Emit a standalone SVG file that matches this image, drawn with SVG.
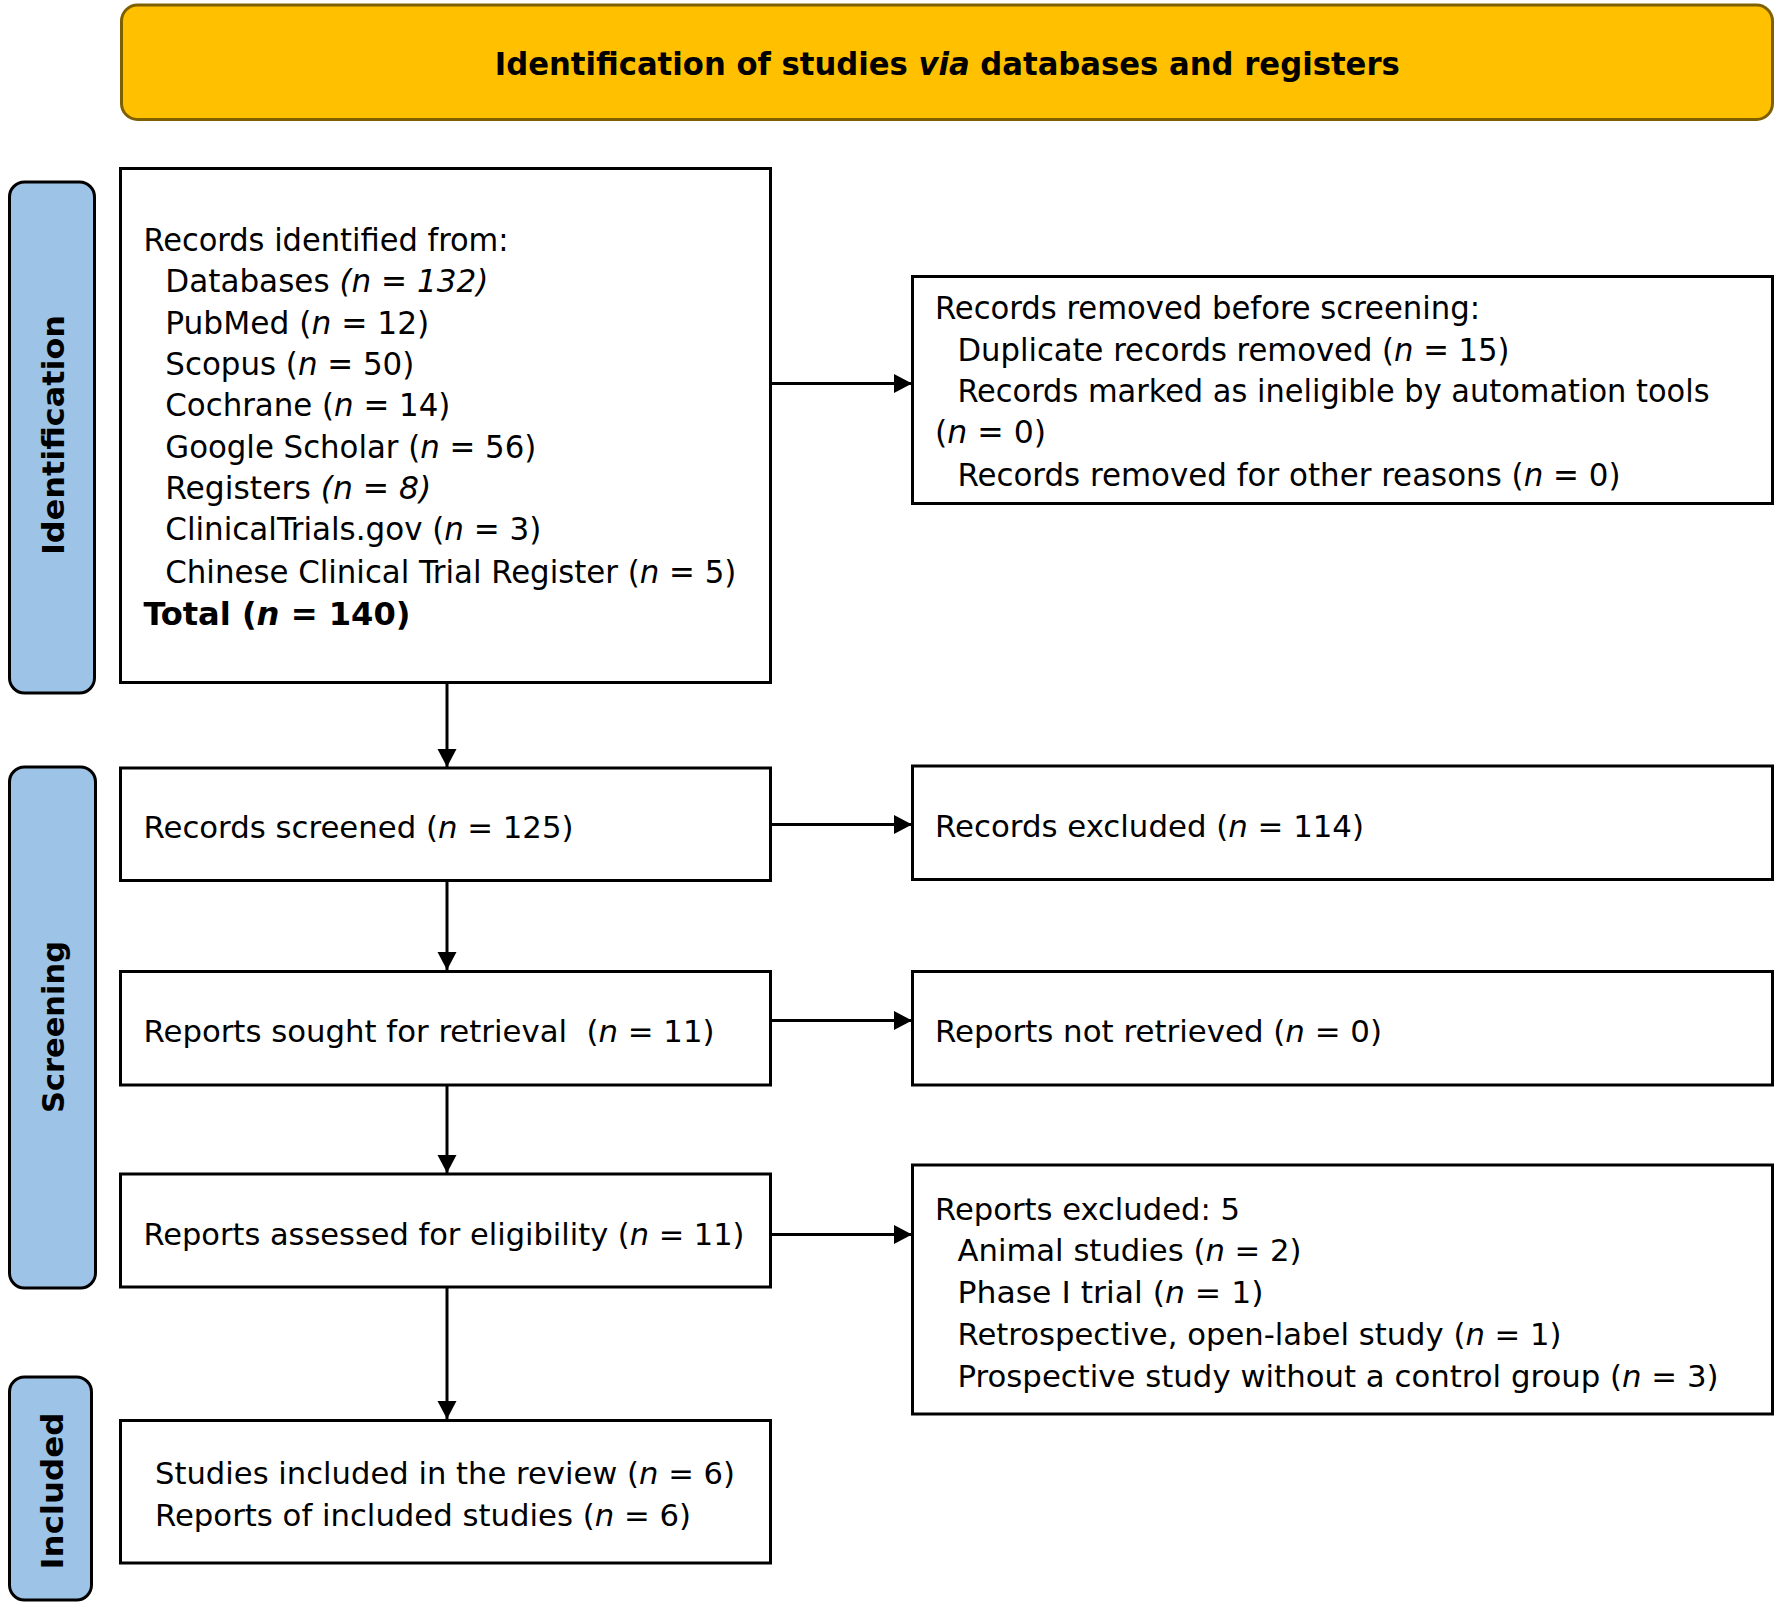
<svg xmlns="http://www.w3.org/2000/svg" width="1779" height="1609" viewBox="0 0 1779 1609">
<style>
.box{fill:#fff;stroke:#000;stroke-width:3}
.side{fill:#9DC3E6;stroke:#000;stroke-width:3}
.hdr{fill:#FFC000;stroke:#7F6000;stroke-width:3}
.cn{font-family:"DejaVu Sans Condensed","DejaVu Sans",sans-serif;font-size:32px;fill:#000}
.rg{font-family:"DejaVu Sans","Liberation Sans",sans-serif;font-size:31px;fill:#000}
.sb{font-family:"DejaVu Sans","Liberation Sans",sans-serif;font-size:31px;font-weight:bold;fill:#000}
.hb{font-family:"DejaVu Sans Condensed","DejaVu Sans",sans-serif;font-size:32px;font-weight:bold;fill:#000}
.i{font-style:italic}
.conn{stroke:#000;stroke-width:3;fill:none;marker-end:url(#ah)}
</style>
<defs>
<marker id="ah" markerUnits="userSpaceOnUse" markerWidth="19" markerHeight="20" refX="18" refY="9.5" orient="auto">
<path d="M0,0 L18,9.5 L0,19 z" fill="#000"/>
</marker>
</defs>
<rect width="1779" height="1609" fill="#fff"/>
<g id="header">
<rect class="hdr" x="121.5" y="5" width="1651" height="114.5" rx="16"/>
<text class="hb" x="494.8" y="75" textLength="905" lengthAdjust="spacingAndGlyphs">Identification of studies <tspan class="i">via</tspan> databases and registers</text>
</g>
<g id="side-identification">
<rect class="side" x="9.5" y="182" width="85" height="511" rx="15"/>
<text class="sb" transform="translate(63.5,435) rotate(-90)" text-anchor="middle" textLength="240" lengthAdjust="spacingAndGlyphs">Identification</text>
</g>
<g id="side-screening">
<rect class="side" x="9.5" y="767" width="86" height="521" rx="15"/>
<text class="sb" transform="translate(64,1027) rotate(-90)" text-anchor="middle" textLength="172" lengthAdjust="spacingAndGlyphs">Screening</text>
</g>
<g id="side-included">
<rect class="side" x="9.5" y="1377" width="82" height="223" rx="15"/>
<text class="sb" transform="translate(62.5,1491) rotate(-90)" text-anchor="middle" textLength="157" lengthAdjust="spacingAndGlyphs">Included</text>
</g>
<g id="records-identified">
<rect class="box" x="120.5" y="168.5" width="650" height="514"/>
<text class="cn" x="143.5" y="251" textLength="365" lengthAdjust="spacingAndGlyphs">Records identified from:</text>
<text class="cn" x="165.3" y="292" textLength="323" lengthAdjust="spacingAndGlyphs">Databases <tspan class="i">(n = 132)</tspan></text>
<text class="cn" x="165.3" y="334" textLength="264" lengthAdjust="spacingAndGlyphs">PubMed (<tspan class="i">n</tspan> = 12)</text>
<text class="cn" x="165.3" y="375" textLength="249" lengthAdjust="spacingAndGlyphs">Scopus (<tspan class="i">n</tspan> = 50)</text>
<text class="cn" x="165.3" y="416" textLength="285" lengthAdjust="spacingAndGlyphs">Cochrane (<tspan class="i">n</tspan> = 14)</text>
<text class="cn" x="165.3" y="457.6" textLength="371" lengthAdjust="spacingAndGlyphs">Google Scholar (<tspan class="i">n</tspan> = 56)</text>
<text class="cn" x="165.3" y="499" textLength="266" lengthAdjust="spacingAndGlyphs">Registers <tspan class="i">(n = 8)</tspan></text>
<text class="cn" x="165.3" y="540" textLength="376" lengthAdjust="spacingAndGlyphs">ClinicalTrials.gov (<tspan class="i">n</tspan> = 3)</text>
<text class="cn" x="165.3" y="582.6" textLength="571" lengthAdjust="spacingAndGlyphs">Chinese Clinical Trial Register (<tspan class="i">n</tspan> = 5)</text>
<text class="cn" x="143.5" y="625" font-weight="bold" textLength="267" lengthAdjust="spacingAndGlyphs">Total (<tspan class="i">n</tspan> = 140)</text>
</g>
<g id="records-removed">
<rect class="box" x="912.5" y="276.5" width="860" height="227"/>
<text class="cn" x="935" y="319" textLength="545" lengthAdjust="spacingAndGlyphs">Records removed before screening:</text>
<text class="cn" x="957.5" y="360.7" textLength="552" lengthAdjust="spacingAndGlyphs">Duplicate records removed (<tspan class="i">n</tspan> = 15)</text>
<text class="cn" x="957.5" y="401.8" textLength="752" lengthAdjust="spacingAndGlyphs">Records marked as ineligible by automation tools</text>
<text class="cn" x="935" y="443" textLength="111" lengthAdjust="spacingAndGlyphs">(<tspan class="i">n</tspan> = 0)</text>
<text class="cn" x="957.5" y="485.7" textLength="663" lengthAdjust="spacingAndGlyphs">Records removed for other reasons (<tspan class="i">n</tspan> = 0)</text>
</g>
<g id="records-screened">
<rect class="box" x="120.5" y="768" width="650" height="112.5"/>
<text class="rg" x="143.5" y="838" textLength="430" lengthAdjust="spacingAndGlyphs">Records screened (<tspan class="i">n</tspan> = 125)</text>
</g>
<g id="records-excluded">
<rect class="box" x="912.5" y="766" width="860" height="113.5"/>
<text class="rg" x="935" y="837.4" textLength="429" lengthAdjust="spacingAndGlyphs">Records excluded (<tspan class="i">n</tspan> = 114)</text>
</g>
<g id="reports-sought">
<rect class="box" x="120.5" y="971.5" width="650" height="113.5"/>
<text class="rg" x="143.5" y="1042" textLength="571" lengthAdjust="spacingAndGlyphs" xml:space="preserve">Reports sought for retrieval  (<tspan class="i">n</tspan> = 11)</text>
</g>
<g id="reports-not-retrieved">
<rect class="box" x="912.5" y="971.5" width="860" height="113.5"/>
<text class="rg" x="935" y="1042" textLength="447" lengthAdjust="spacingAndGlyphs">Reports not retrieved (<tspan class="i">n</tspan> = 0)</text>
</g>
<g id="reports-assessed">
<rect class="box" x="120.5" y="1174" width="650" height="113"/>
<text class="rg" x="143.5" y="1245" textLength="601" lengthAdjust="spacingAndGlyphs">Reports assessed for eligibility (<tspan class="i">n</tspan> = 11)</text>
</g>
<g id="reports-excluded">
<rect class="box" x="912.5" y="1165" width="860" height="249"/>
<text class="rg" x="935" y="1220" textLength="305" lengthAdjust="spacingAndGlyphs">Reports excluded: 5</text>
<text class="rg" x="957.5" y="1261" textLength="344" lengthAdjust="spacingAndGlyphs">Animal studies (<tspan class="i">n</tspan> = 2)</text>
<text class="rg" x="957.5" y="1303" textLength="306" lengthAdjust="spacingAndGlyphs">Phase I trial (<tspan class="i">n</tspan> = 1)</text>
<text class="rg" x="957.5" y="1344.6" textLength="604" lengthAdjust="spacingAndGlyphs">Retrospective, open-label study (<tspan class="i">n</tspan> = 1)</text>
<text class="rg" x="957.5" y="1387" textLength="761" lengthAdjust="spacingAndGlyphs">Prospective study without a control group (<tspan class="i">n</tspan> = 3)</text>
</g>
<g id="studies-included">
<rect class="box" x="120.5" y="1420.5" width="650" height="142.5"/>
<text class="rg" x="155" y="1484" textLength="580" lengthAdjust="spacingAndGlyphs">Studies included in the review (<tspan class="i">n</tspan> = 6)</text>
<text class="rg" x="155" y="1526" textLength="536" lengthAdjust="spacingAndGlyphs">Reports of included studies (<tspan class="i">n</tspan> = 6)</text>
</g>
<g id="connectors">
<path class="conn" d="M770.5,383.5 H912"/>
<path class="conn" d="M447,682.5 V767"/>
<path class="conn" d="M770.5,824.5 H912"/>
<path class="conn" d="M447,880.5 V970"/>
<path class="conn" d="M770.5,1020.5 H912"/>
<path class="conn" d="M447,1085 V1173"/>
<path class="conn" d="M770.5,1234.5 H912"/>
<path class="conn" d="M447,1287 V1419"/>
</g>
</svg>
